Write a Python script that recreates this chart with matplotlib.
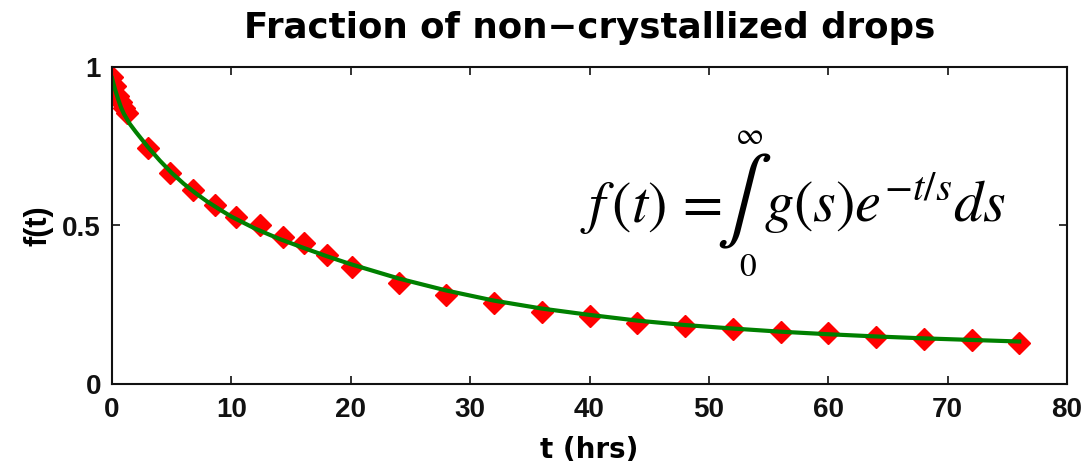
import numpy as np
import matplotlib
matplotlib.use('Agg')
import matplotlib.pyplot as plt

t_pts = [0, 0.25, 0.5, 0.75, 1.0, 1.25, 3.0, 4.9, 6.8, 8.6, 10.4, 12.4, 14.3, 16.1, 18.0,
         20.1, 24.0, 28.0, 32.0, 36.0, 40.0, 44.0, 48.0, 52.0, 56.0, 60.0, 64.0, 68.0, 72.0, 76.0]
f_pts = [0.97, 0.94, 0.91, 0.89, 0.87, 0.855, 0.745, 0.667, 0.612, 0.565, 0.527, 0.50, 0.464, 0.444, 0.407,
         0.37, 0.32, 0.281, 0.255, 0.227, 0.214, 0.192, 0.183, 0.173, 0.163, 0.161, 0.148, 0.142, 0.139, 0.129]

# fitted curve
t_fit = [0, 0.25, 0.5, 0.75, 1.0, 1.5, 2, 3, 4, 5, 6, 7, 8, 9, 10, 12, 14, 16, 18, 20,
         24, 28, 32, 36, 40, 44, 48, 52, 56, 60, 64, 68, 72, 76]
f_fit = [0.965, 0.93, 0.90, 0.873, 0.852, 0.82, 0.795, 0.748, 0.705, 0.666, 0.632, 0.602, 0.575, 0.551, 0.528,
         0.49, 0.458, 0.43, 0.403, 0.378, 0.333, 0.295, 0.263, 0.238, 0.218, 0.2, 0.186, 0.175, 0.165,
         0.157, 0.15, 0.144, 0.139, 0.134]

xticks = [0, 10, 20, 30, 40, 50, 60, 70, 80]
yticks = [0, 0.5, 1]
ytick_labels = ['0', '0.5', '1']

plt.rcParams['font.family'] = 'Liberation Sans'
plt.rcParams['mathtext.fontset'] = 'stix'

fig = plt.figure(figsize=(10.86, 4.65), dpi=100)
ax = fig.add_axes([112/1086, 1 - 384/465, (1067 - 112)/1086, (384 - 67)/465])

ax.plot(t_pts, f_pts, linestyle='none', marker='D', ms=11, color='red', mec='red')
ax.plot(t_fit, f_fit, color=(0, 0.5, 0), lw=3)

ax.set_xlim(0, 80)
ax.set_ylim(0, 1)
ax.set_xticks(xticks)
ax.set_yticks(yticks)
ax.set_yticklabels(ytick_labels)
ax.tick_params(direction='in', top=True, right=True, length=6, width=1.2, labelsize=20, colors='#111111')
ax.tick_params(axis='x', pad=9)
ax.tick_params(axis='y', pad=8)
for lbl in ax.get_xticklabels() + ax.get_yticklabels():
    lbl.set_fontweight('bold')
for sp in ax.spines.values():
    sp.set_linewidth(1.5)
    sp.set_color('#111111')

ax.set_title('Fraction of non\u2212crystallized drops', fontsize=25.7, fontweight='bold',
             family='DejaVu Sans', pad=21)
ax.set_xlabel('t (hrs)', fontsize=20, fontweight='bold', family='DejaVu Sans', labelpad=10)
ax.set_ylabel('f(t)', fontsize=22, fontweight='bold', labelpad=6)

# formula
tr = ax.transAxes
fs = 42
ax.text(0.490, 0.511, r'$f\,(t)\, =$', transform=tr, fontsize=fs, va='baseline', ha='left')
ax.text(0.661, 0.577, r'$\int$', transform=tr, fontsize=60, va='center', ha='center')
ax.text(0.667, 0.782, r'$\infty$', transform=tr, fontsize=22, va='center', ha='center')
ax.text(0.666, 0.368, r'$0$', transform=tr, fontsize=24, va='center', ha='center')
ax.text(0.683, 0.511, r'$g(s)e^{-t/s}ds$', transform=tr, fontsize=fs, va='baseline', ha='left')

fig.savefig('out.png', dpi=100)
